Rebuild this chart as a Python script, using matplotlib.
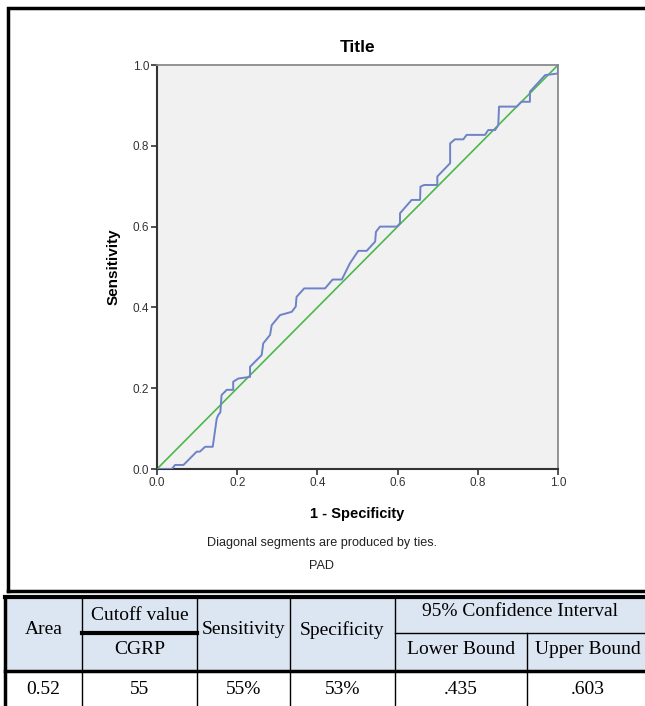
import matplotlib
matplotlib.use("Agg")
from matplotlib import pyplot as plt
from matplotlib.patches import Rectangle


# ROC curve points
fpr = [0.000, 0.037, 0.045, 0.066, 0.099, 0.107, 0.120, 0.139, 0.149, 0.153,
       0.158, 0.161, 0.174, 0.190, 0.190, 0.203, 0.232, 0.232, 0.261, 0.265,
       0.282, 0.286, 0.307, 0.336, 0.346, 0.348, 0.367, 0.419, 0.438, 0.461,
       0.481, 0.502, 0.523, 0.544, 0.546, 0.556, 0.598, 0.606, 0.606, 0.635,
       0.656, 0.657, 0.666, 0.699, 0.699, 0.731, 0.731, 0.743, 0.764, 0.772,
       0.818, 0.826, 0.843, 0.851, 0.853, 0.897, 0.909, 0.930, 0.930, 0.968,
       1.000, 1.000]
tpr = [0.000, 0.000, 0.010, 0.010, 0.043, 0.043, 0.055, 0.055, 0.125, 0.134,
       0.140, 0.183, 0.196, 0.196, 0.216, 0.224, 0.228, 0.253, 0.282, 0.311,
       0.332, 0.356, 0.381, 0.389, 0.402, 0.426, 0.447, 0.447, 0.469, 0.469,
       0.509, 0.540, 0.540, 0.563, 0.587, 0.600, 0.600, 0.608, 0.633, 0.666,
       0.666, 0.699, 0.703, 0.703, 0.724, 0.757, 0.806, 0.816, 0.816, 0.827,
       0.827, 0.839, 0.839, 0.851, 0.897, 0.897, 0.909, 0.909, 0.934, 0.975,
       0.979, 1.000]
ref_line = [0.0, 1.0]
ticks = [0.0, 0.2, 0.4, 0.6, 0.8, 1.0]

# Table contents
header_top = ["Area", "Cutoff value", "Sensitivity", "Specificity", "95% Confidence Interval"]
header_sub = ["CGRP", "Lower Bound", "Upper Bound"]
row_values = ["0.52", "55", "55%", "53%", ".435", ".603"]

W, H = 645, 706
fig = plt.figure(figsize=(W / 100, H / 100), dpi=100)

# Overlay in pixel coordinates for the frame, captions and table
over = fig.add_axes([0, 0, 1, 1])
over.set_xlim(0, W)
over.set_ylim(H, 0)
over.axis("off")

sans = "Liberation Sans"
serif = "Liberation Serif"

# ROC axes
ax = fig.add_axes([157 / W, (H - 469) / H, 401 / W, 404 / H])
ax.set_facecolor("#f1f1f1")
ax.plot(ref_line, ref_line, color="#4cb84c", lw=1.2, zorder=2)
ax.plot(fpr, tpr, color="#6d82c9", lw=1.4, zorder=3)
ax.set_xlim(0, 1)
ax.set_ylim(0, 1)
ax.set_xticks(ticks)
ax.set_yticks(ticks)
ax.set_xticklabels([f"{t:.1f}" for t in ticks], fontfamily=sans, fontsize=8.5, color="#333333")
ax.set_yticklabels([f"{t:.1f}" for t in ticks], fontfamily=sans, fontsize=8.5, color="#333333")
ax.tick_params(direction="out", length=4, width=1.2, color="#333333", pad=1.5)
for side in ["left", "bottom"]:
    ax.spines[side].set_color("#333333")
    ax.spines[side].set_linewidth(1.5)
for side in ["top", "right"]:
    ax.spines[side].set_color("#8a8a8a")
    ax.spines[side].set_linewidth(1.3)
ax.set_title("Title", fontfamily=sans, fontsize=12.5, fontweight="bold", pad=9)
ax.set_xlabel("1 - Specificity", fontfamily=sans, fontsize=10.5, fontweight="bold", labelpad=13)
ax.set_ylabel("Sensitivity", fontfamily=sans, fontsize=11, fontweight="bold", labelpad=9)

over.text(322, 543, "Diagonal segments are produced by ties.", fontfamily=sans, fontsize=9.1,
          color="#222222", ha="center", va="center")
over.text(322, 566, "PAD", fontfamily=sans, fontsize=9.1, color="#222222", ha="center", va="center")

# Frame around the chart
over.plot([8, 8, 650], [591, 8, 8], color="black", lw=2.5, solid_joinstyle="miter")
over.plot([8, 650], [591, 591], color="black", lw=2.5)

# Table
cols = [5, 82, 197, 290, 395, 527, 650]
top, mid, hbot, bot = 597, 633, 671, 710
over.add_patch(Rectangle((cols[0], top), W - cols[0] + 5, hbot - top, facecolor="#dce6f2",
                         edgecolor="none", zorder=0))
over.plot([cols[0], W + 5], [top, top], color="black", lw=3)
over.plot([cols[0], cols[0]], [top, bot], color="black", lw=2.5)
over.plot([cols[0], W + 5], [hbot, hbot], color="black", lw=2.5)
for x in cols[1:5]:
    over.plot([x, x], [top, bot], color="black", lw=1)
over.plot([cols[5], cols[5]], [mid, bot], color="black", lw=1)
over.plot([cols[1], cols[2]], [mid, mid], color="black", lw=3)
over.plot([cols[4], W + 5], [mid, mid], color="black", lw=1)

tf = dict(fontfamily=serif, fontsize=14, color="black", ha="center", va="center")
over.text((cols[0] + cols[1]) / 2, 630, header_top[0], **tf)
over.text((cols[1] + cols[2]) / 2, 616, header_top[1], **tf)
over.text((cols[2] + cols[3]) / 2, 630, header_top[2], **tf)
over.text((cols[3] + cols[4]) / 2, 630, header_top[3], **tf)
over.text((cols[4] + W) / 2, 611, header_top[4], **tf)
over.text((cols[1] + cols[2]) / 2, 649, header_sub[0], **tf)
over.text((cols[4] + cols[5]) / 2, 649, header_sub[1], **tf)
over.text((cols[5] + W) / 2 + 2, 649, header_sub[2], **tf)

row_x = [(cols[i] + cols[i + 1]) / 2 for i in range(5)] + [(cols[5] + W) / 2 + 2]
for x, val in zip(row_x, row_values):
    over.text(x, 689, val, **tf)

fig.savefig("out.png", dpi=100)
